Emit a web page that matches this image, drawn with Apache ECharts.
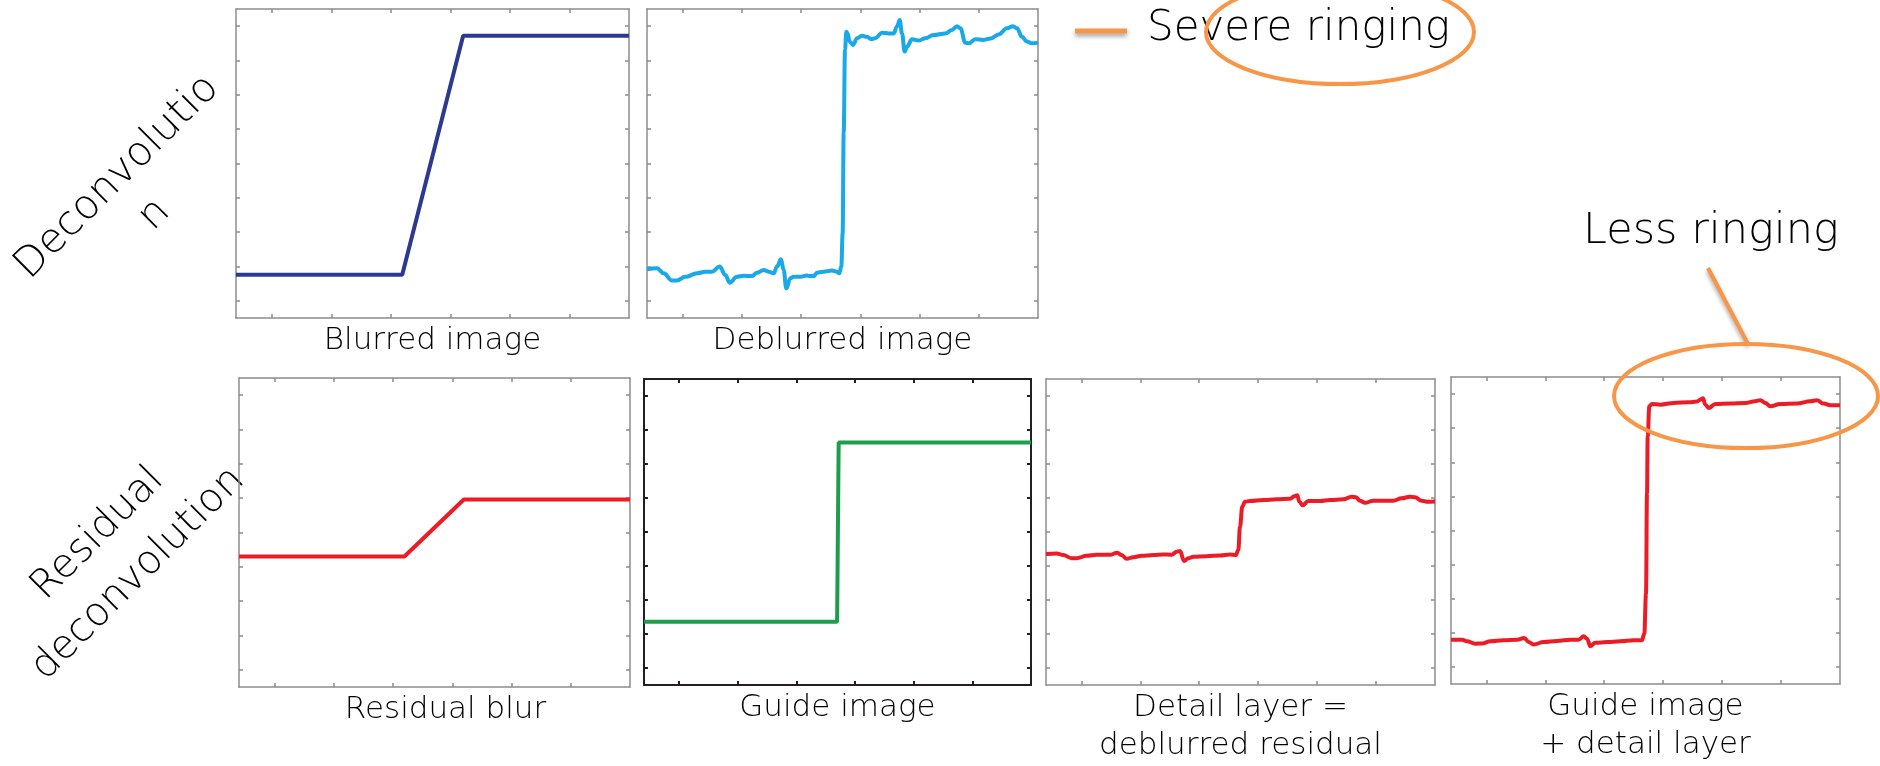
<!DOCTYPE html>
<html>
<head>
<meta charset="utf-8">
<title>Residual deconvolution</title>
<script src="https://cdn.jsdelivr.net/npm/echarts@6/dist/echarts.min.js"></script>
<style>
  html,body{margin:0;padding:0;background:#fff;}
  #main{width:1880px;height:766px;}
</style>
</head>
<body>
<div id="main"></div>
<script>
// x = position across the panel (0-100), y = intensity (0-9)
var blurred = [[0,1.26],[42.3,1.26],[57.8,8.22],[100,8.22]];
var deblurred = [[0,1.42],[2.56,1.45],[4.26,1.30],[6.39,1.09],[7.67,1.09],[9.80,1.20],[12.79,1.30],[14.92,1.35],[16.62,1.35],[18.58,1.50],[20.03,1.25],[21.14,1.03],[23.02,1.20],[24.72,1.23],[26.85,1.22],[28.13,1.32],[29.84,1.40],[31.12,1.35],[32.40,1.30],[33.25,1.50],[34.27,1.71],[34.95,1.40],[35.63,0.86],[36.66,1.16],[37.51,1.20],[39.22,1.20],[40.92,1.24],[41.77,1.22],[42.63,1.22],[43.48,1.32],[45.18,1.35],[47.31,1.38],[48.59,1.35],[49.19,1.30],[49.70,1.50],[50.04,2.47],[50.30,5.38],[50.64,7.81],[50.98,8.34],[51.32,8.29],[51.83,8.05],[52.68,7.95],[53.71,8.15],[54.99,8.22],[56.27,8.19],[57.37,8.12],[58.40,8.15],[60.10,8.31],[61.81,8.29],[63.09,8.29],[63.94,8.49],[64.62,8.68],[65.22,8.29],[65.90,7.76],[66.50,7.90],[67.77,8.12],[69.48,8.08],[71.18,8.15],[73.32,8.24],[76.30,8.29],[78.00,8.39],[79.28,8.50],[80.14,8.44],[81.41,8.02],[82.27,8.00],[83.97,8.12],[86.10,8.10],[87.81,8.14],[89.94,8.26],[92.07,8.44],[93.60,8.50],[94.63,8.44],[95.90,8.19],[97.19,8.05],[98.46,8.00],[100,8.02]];
var residualBlur = [[0,3.80],[42.3,3.80],[57.5,5.46],[100,5.46]];
var guide = [[0,1.86],[49.9,1.86],[50.3,7.13],[100,7.13]];
var detail = [[0,3.85],[2.74,3.87],[4.46,3.82],[6.60,3.73],[7.88,3.73],[10.45,3.80],[13.02,3.83],[16.45,3.83],[18.34,3.89],[19.45,3.82],[20.74,3.71],[22.45,3.76],[24.59,3.80],[27.59,3.82],[30.16,3.84],[32.31,3.83],[33.59,3.92],[34.45,3.94],[35.48,3.65],[36.59,3.73],[37.88,3.77],[41.30,3.79],[44.73,3.81],[47.30,3.84],[48.76,3.82],[49.44,3.97],[49.87,4.66],[50.47,5.25],[51.15,5.39],[52.44,5.41],[55.87,5.44],[59.30,5.46],[62.73,5.48],[64.01,5.56],[64.61,5.58],[65.12,5.39],[65.98,5.29],[67.44,5.41],[70.44,5.41],[73.01,5.44],[76.44,5.46],[78.58,5.54],[79.69,5.52],[80.72,5.42],[82.00,5.36],[84.15,5.42],[86.72,5.42],[89.29,5.42],[91.43,5.49],[93.57,5.54],[94.86,5.52],[96.57,5.42],[97.86,5.39],[100,5.40]];
var guideDetail = [[0,1.30],[2.83,1.30],[4.11,1.25],[6.26,1.18],[7.97,1.19],[10.11,1.25],[13.54,1.28],[16.97,1.30],[18.85,1.35],[19.97,1.23],[21.25,1.16],[23.82,1.23],[27.25,1.26],[30.68,1.30],[32.82,1.30],[34.11,1.40],[34.96,1.33],[35.82,1.11],[37.10,1.21],[40.10,1.23],[43.53,1.25],[46.96,1.28],[49.10,1.28],[49.70,1.48],[50.13,2.65],[50.39,5.59],[50.56,7.26],[50.99,8.14],[51.67,8.21],[53.81,8.19],[57.24,8.24],[61.10,8.26],[63.24,8.28],[64.27,8.35],[64.78,8.38],[65.38,8.19],[66.24,8.09],[67.95,8.21],[71.81,8.22],[75.66,8.24],[78.23,8.29],[79.52,8.32],[80.80,8.24],[82.09,8.14],[84.66,8.21],[88.95,8.22],[92.37,8.29],[94.09,8.32],[95.80,8.22],[97.51,8.17],[100,8.17]];

var xTicks = [9.09, 24.24, 39.39, 54.55, 69.70, 84.85];
var yTicks = [0.5, 1.5, 2.5, 3.5, 4.5, 5.5, 6.5, 7.5, 8.5];

var orange = '#F79646';
var font = '"DejaVu Sans", sans-serif';

var panels = [
  {label:'Blurred image', data:blurred, color:'#2b3990', smooth:false, box:[236,9,393,309]},
  {label:'Deblurred image', data:deblurred, color:'#19a8e8', smooth:0.4, box:[647,9,391,309]},
  {label:'Residual blur', data:residualBlur, color:'#ec1c27', smooth:false, box:[239,378,391,309], shift:22},
  {label:'Guide image', data:guide, color:'#1d9e4a', smooth:false, box:[644,379,387,306], dark:true},
  {label:'Detail layer =\ndeblurred residual', data:detail, color:'#ec1c27', smooth:0.4, box:[1046,379,389,306]},
  {label:'Guide image\n+ detail layer', data:guideDetail, color:'#ec1c27', smooth:0.4, box:[1451,377,389,307]}
];

var grids = [], xAxes = [], yAxes = [], series = [];
panels.forEach(function(p, i){
  var edge = {color: p.dark ? '#231f20' : '#8c8c8c', width: p.dark ? 2 : 1.5};
  grids.push({left:p.box[0], top:p.box[1], width:p.box[2], height:p.box[3]});
  ['bottom','top'].forEach(function(pos){
    xAxes.push({
      gridIndex:i, type:'value', min:0, max:100, position:pos,
      axisLine:{show:true, onZero:false, lineStyle:edge},
      axisTick:{show:true, inside:true, length:4, customValues:xTicks, lineStyle:edge},
      axisLabel:{show:false}, splitLine:{show:false},
      name: pos == 'bottom' ? p.label : '',
      nameLocation:'middle', nameGap:4,
      nameTextStyle:{fontFamily:font, fontWeight:200, fontSize:31, color:'#000', lineHeight:38,
        padding:[0,0,0,p.shift||0]}
    });
  });
  ['left','right'].forEach(function(pos){
    yAxes.push({
      gridIndex:i, type:'value', min:0, max:9, position:pos,
      axisLine:{show:true, onZero:false, lineStyle:edge},
      axisTick:{show:true, inside:true, length:4, customValues:yTicks, lineStyle:edge},
      axisLabel:{show:false}, splitLine:{show:false}
    });
  });
  series.push({
    type:'line', xAxisIndex:2*i, yAxisIndex:2*i, data:p.data,
    showSymbol:false, smooth:p.smooth, smoothMonotone:'x',
    lineStyle:{color:p.color, width:4}, z:3
  });
});

var shadow = {shadowColor:'rgba(0,0,0,0.35)', shadowBlur:4, shadowOffsetY:3};

var myChart = echarts.init(document.getElementById('main'));
option = {
  backgroundColor:'#fff',
  animation:false,
  grid:grids, xAxis:xAxes, yAxis:yAxes, series:series,
  graphic:[
    // row titles
    {type:'text', x:136, y:196, rotation:Math.PI/4,
      style:{text:'Deconvolutio\nn', font:'200 41px ' + font, fill:'#000', align:'center', verticalAlign:'middle', lineHeight:53}},
    {type:'text', x:118, y:554, rotation:Math.PI/4,
      style:{text:'Residual\ndeconvolution', font:'200 40px ' + font, fill:'#000', align:'center', verticalAlign:'middle', lineHeight:57}},
    // annotations
    {type:'line', shape:{x1:1075, y1:31, x2:1127, y2:31}, style:Object.assign({stroke:orange, lineWidth:5}, shadow), z:10},
    {type:'text', x:1147, y:29,
      style:{text:'Severe ringing', font:'200 42px ' + font, fill:'#000', verticalAlign:'middle'}, z:10},
    {type:'ellipse', shape:{cx:1340, cy:32, rx:134, ry:52}, style:{fill:null, stroke:orange, lineWidth:4}, z:11},
    {type:'text', x:1583, y:232,
      style:{text:'Less ringing', font:'200 43px ' + font, fill:'#000', verticalAlign:'middle'}, z:10},
    {type:'line', shape:{x1:1708, y1:268, x2:1748, y2:344}, style:Object.assign({stroke:orange, lineWidth:4}, shadow), z:10},
    {type:'ellipse', shape:{cx:1746, cy:396, rx:132, ry:52}, style:{fill:null, stroke:orange, lineWidth:4}, z:11}
  ]
};
option && myChart.setOption(option);
</script>
</body>
</html>
